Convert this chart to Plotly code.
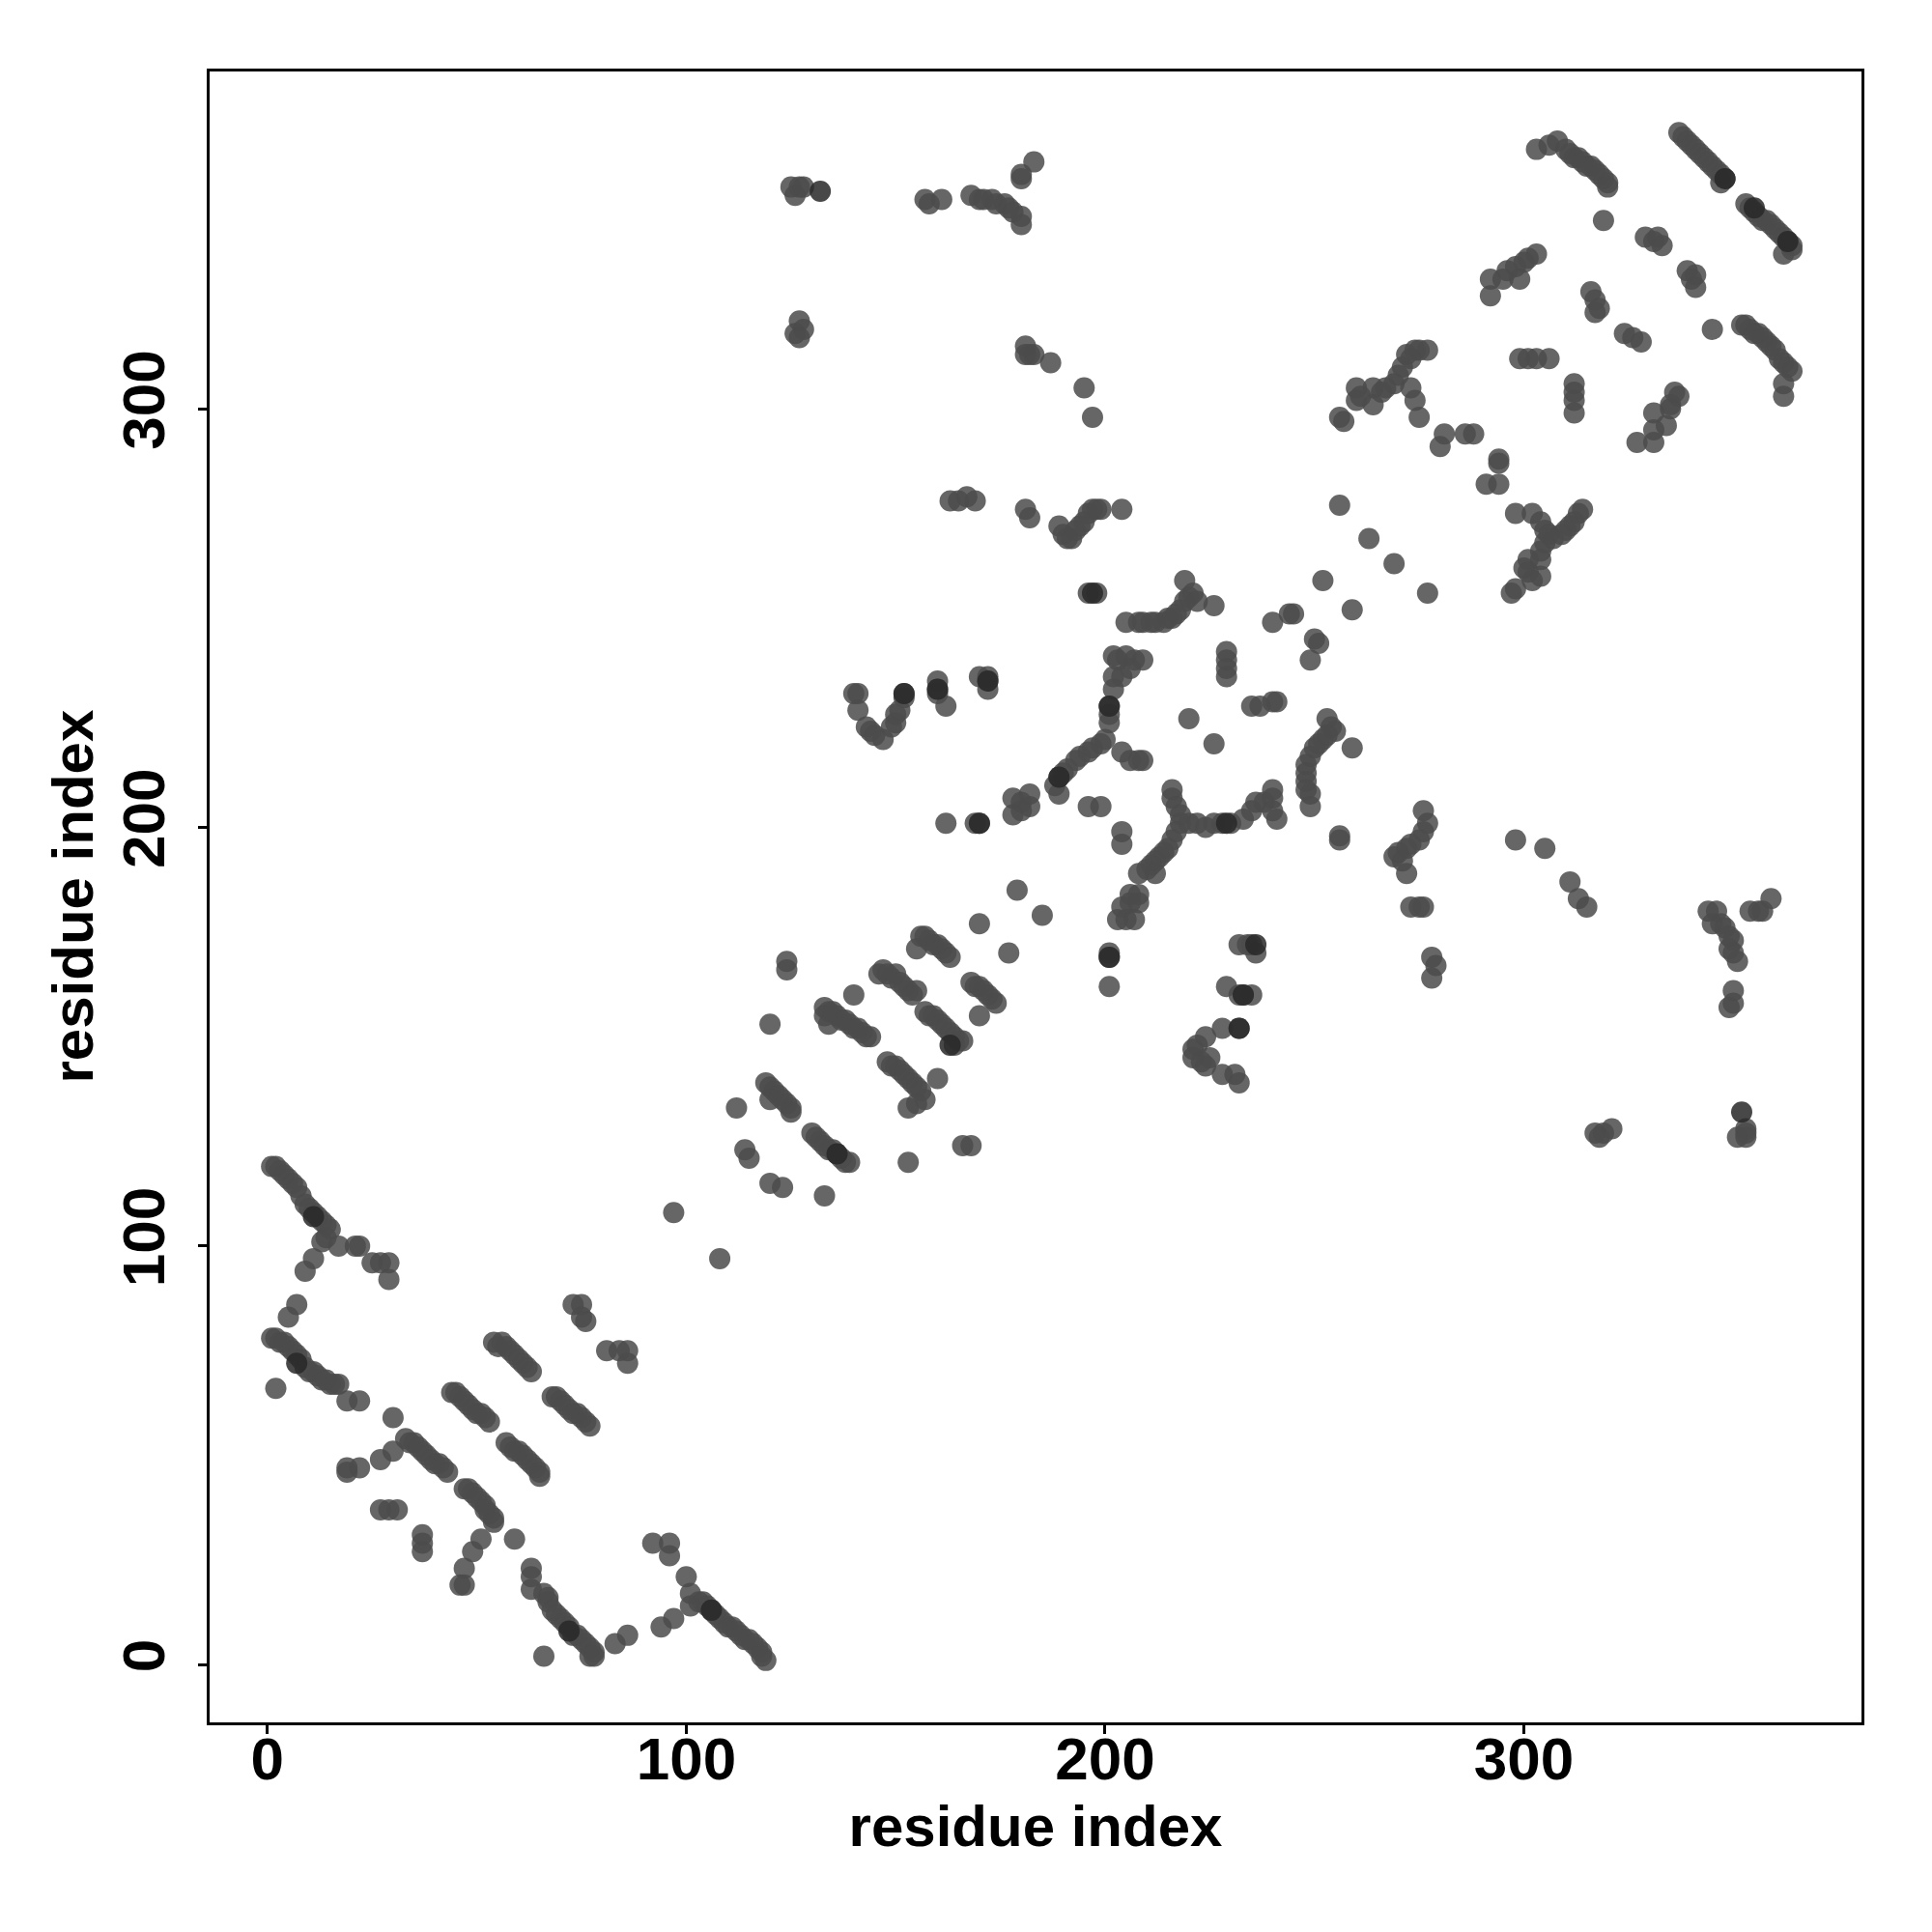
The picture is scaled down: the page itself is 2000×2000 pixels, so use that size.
import plotly.graph_objects as go

# Contacts, grouped by region: (residue i, residue j)
contacts_lower = [
    (1,119),(2,119),(3,118),(4,117),(5,116),(6,115),(7,114),(8,112),(9,110),(10,109),(11,108),(12,107),(13,106),(14,105),(15,104),(14,102),(13,101),(17,100),(21,100),(22,100),
    (11,97),(9,94),(25,96),(27,96),(29,96),(29,92),(7,86),(73,86),(75,86),
    (5,83),(1,78),(2,78),(3,77),(4,77),(5,76),(6,75),(7,74),(8,73),(9,71),(10,70),(11,70),(12,69),(13,68),(14,68),(15,67),(16,67),(17,67),(2,66),(19,63),(22,63),(30,59),
    (33,54),(34,53),(35,53),(36,52),(37,51),(38,50),(39,49),(40,48),(41,48),(42,47),(43,46),
    (30,51),(27,49),(22,47),(19,47),(19,46),
    (27,37),(29,37),(31,37),(37,31),(37,29),(37,27),
    (44,65),(45,65),(46,64),(47,63),(48,62),(49,61),(50,60),(51,60),(52,59),(53,58),
    (54,77),(55,76),(56,77),(57,76),(58,75),(59,74),(60,73),(61,72),(62,71),(63,70),
    (57,53),(58,52),(59,51),(60,51),(61,50),(62,49),(63,48),(64,47),(65,46),(65,45),
    (68,64),(69,64),(70,63),(71,62),(72,61),(73,60),(74,60),(75,59),(76,58),(77,57),
    (75,83),(76,82),(81,75),(84,75),(86,75),(86,72),
    (47,42),(48,42),(49,41),(50,40),(51,39),(52,38),(52,37),(53,36),(54,35),(54,34),
    (51,30),(49,27),(47,23),(46,19),(47,19),(59,30),(63,23),(63,21),(63,18),
    (66,17),(67,16),(67,15),(68,13),(69,12),(70,11),(71,10),(72,9),(73,7),(74,7),(75,6),(76,5),(77,4),(78,3),(78,2),(77,2),(66,2),(83,5),(86,7),
    (92,29),(96,29),(96,26),(100,21),(101,17),(101,14),(97,11),(94,9),
    (103,15),(104,15),(105,14),(106,13),(107,12),(108,11),(109,10),(110,9),(111,9),(112,8),(113,7),(114,6),(115,6),(116,5),(117,4),(118,3),(118,2),(119,1),
]

contacts_middle = [
    (179,185),(170,177),(177,170),(124,168),(124,166),(140,160),(120,153),
    (133,157),(134,156),(135,156),(136,155),(137,154),(138,154),(139,153),(140,152),(141,152),(142,151),(143,150),(144,150),(134,153),(133,155),
    (146,165),(147,166),(148,165),(149,164),(150,165),(151,163),(152,162),(153,161),(154,160),(155,161),
    (156,174),(157,174),(158,173),(159,172),(160,172),(161,171),(162,170),(163,169),(155,171),
    (168,163),(169,162),(170,162),(171,161),(172,160),(173,159),(174,158),(170,155),
    (157,156),(158,155),(159,155),(160,154),(161,153),(162,152),(163,151),(164,150),(165,149),(166,149),(164,148),
    (148,144),(149,143),(150,143),(151,142),(152,141),(153,140),(154,139),(155,138),(156,137),(157,135),(153,133),(155,134),
    (160,140),
    (119,139),(120,138),(121,137),(122,136),(123,135),(124,134),(125,133),(125,132),(120,135),(112,133),
    (130,127),(131,126),(132,125),(133,124),(134,123),(135,123),(136,122),(137,121),(138,120),(139,120),
    (114,123),(115,121),(120,115),(123,114),(133,112),(153,120),(166,124),(168,124),(97,108),(108,97),
    (185,179),(204,181),(206,182),(208,182),(203,178),(205,178),(207,178),(201,170),(201,169),(201,162),
    (232,172),(234,172),(235,172),(236,170),(229,162),(232,160),(233,160),(235,160),
    (228,152),(232,152),(224,150),(222,148),(221,147),(221,145),(223,144),(224,143),(225,145),(228,141),(231,141),(232,139),
    (273,181),(275,181),(276,181),(278,169),(279,167),(278,164),
]

contacts_central = [
    (163,278),(165,278),(167,279),(169,278),(181,276),(182,274),
    (140,232),(141,232),(141,228),(152,232),(152,231),
    (143,224),(144,223),(145,222),(147,221),(149,224),(150,225),(150,227),(151,228),
    (160,235),(160,233),(160,232),(162,229),
    (170,236),(172,236),(172,235),(172,233),
    (162,201),(169,201),(170,201),
    (178,207),(180,206),(182,208),(178,203),(180,204),(182,205),
    (189,272),(190,270),(191,269),(192,269),(193,271),(194,272),(195,273),(196,275),(197,276),(198,276),(199,276),(204,276),
    (196,256),(198,256),
    (205,249),(208,249),(209,249),(211,249),(212,249),(214,249),(215,250),(216,250),(217,251),(218,252),(219,254),(220,255),(221,256),(219,259),(222,254),(226,253),
    (202,241),(203,240),(205,241),(207,240),(209,240),(206,238),(202,236),(204,236),(202,233),(201,229),(201,227),(201,225),(200,221),(199,220),(197,219),(196,218),(194,217),(193,216),(191,214),(190,213),(189,212),(188,210),(189,208),
    (204,218),(206,216),(208,216),(209,216),
    (229,242),(229,240),(229,238),(229,236),
    (240,249),(244,251),(245,251),(250,245),(251,244),(249,240),
    (256,277),(263,269),(269,263),(277,256),(252,259),(259,252),
    (235,229),(237,229),(240,230),(241,230),(220,226),(226,220),
    (253,226),(254,224),(255,223),(253,222),(252,221),(251,220),(250,219),(259,219),(249,217),(248,215),(248,213),(248,211),(248,209),(249,208),(249,205),
    (196,205),(199,205),(204,199),(204,196),
    (216,209),(216,207),(217,205),(218,203),(218,201),(220,201),(222,201),(224,200),(226,201),(228,201),(230,201),(233,202),(235,204),(236,206),(238,206),(240,207),(240,209),(241,202),(240,204),
    (217,199),(216,197),(215,195),(214,194),(213,193),(212,192),(211,191),(210,190),(208,189),(212,189),
    (206,184),(208,184),(256,198),(256,197),
    (276,204),(277,201),(276,199),(275,197),(273,196),(272,195),(270,194),(269,193),(271,192),(272,189),
]

contacts_right = [
    (298,275),(302,275),(304,273),(305,271),(306,270),(305,268),(304,266),(304,264),(301,264),(301,261),(300,262),(304,260),(302,259),(298,257),(297,256),
    (314,276),(313,275),(312,273),(311,272),(310,271),(309,270),(307,269),
    (298,197),(305,195),(311,187),(313,183),(315,181),(359,183),(356,180),(354,180),(357,180),
    (344,180),(346,180),(345,177),(347,177),(348,176),(349,174),(350,173),(349,171),(350,170),(351,168),(350,161),(350,158),(349,157),
    (317,127),(318,126),(319,127),(321,128),(353,128),(351,126),(353,126),(353,127),
]

contacts_upper = [
    (303,362),(306,363),(308,364),(310,362),(311,361),(312,360),(313,360),(314,359),(315,358),(316,358),(317,357),(318,356),(319,355),(320,354),(320,353),(319,345),
    (337,366),(338,365),(339,364),(340,363),(341,362),(342,361),(343,360),(344,359),(345,358),(346,357),(347,356),(348,355),(347,354),
    (353,349),(354,348),(355,347),(356,346),(357,345),(358,345),(359,344),(360,343),(361,342),(362,341),(363,340),(364,339),(364,338),(362,337),
    (329,341),(331,340),(332,341),(333,339),(339,333),(340,331),(341,332),(341,329),
    (303,337),(301,336),(300,335),(298,334),(296,333),(292,331),(295,331),(299,331),(292,327),
    (316,328),(317,326),(318,324),(317,323),(324,318),(326,317),(328,316),(345,319),
    (352,320),(353,320),(354,319),(355,318),(356,318),(357,317),(358,316),(359,315),(360,314),(361,312),(362,311),(363,310),(364,309),(362,306),(362,303),
    (312,306),(312,304),(312,302),(312,299),(299,312),(301,312),(303,312),(306,312),
    (336,304),(337,303),(335,301),(335,300),(331,299),(334,296),(331,295),(327,292),(331,292),
    (286,294),(288,294),(294,288),(294,287),(291,282),(294,282),
    (183,313),(187,311),(195,305),(197,298),
    (275,314),(277,314),(272,313),(271,310),(270,308),(269,306),(267,305),(266,304),(264,305),(261,303),(260,305),(260,302),(264,301),(273,305),(274,302),(275,298),(256,298),(257,297),(281,294),(280,291),(273,312),(274,314),
    (125,353),(126,351),(127,353),(128,353),(157,350),(158,349),(161,350),
    (168,351),(170,350),(171,350),(173,350),(174,349),(176,349),(177,348),(178,347),(180,346),(180,344),
    (180,356),(180,355),(183,359),(127,321),(128,319),(126,318),(127,317),(181,315),(182,313),(181,313),
]

# Contacts that show up as darker marks
contacts_dark = [
    (132,352),(152,232),(172,235),(160,233),(170,201),(201,169),(236,172),(233,160),(232,152),
    (197,256),(352,132),(136,122),(163,148),(72,8),(7,72),(11,107),(106,13),
    (348,355),(355,348),(363,340),(201,229),(189,212),(229,201),
]

tick_values = [0, 100, 200, 300]
axis_label = "residue index"

base_contacts = contacts_lower + contacts_middle + contacts_central + contacts_right + contacts_upper

fig = go.Figure()
fig.add_trace(go.Scatter(
    x=[p[0] for p in base_contacts], y=[p[1] for p in base_contacts], mode="markers",
    marker=dict(size=22, color="rgba(75,75,75,0.85)", line=dict(width=0)),
    showlegend=False, hoverinfo="x+y",
))
fig.add_trace(go.Scatter(
    x=[p[0] for p in contacts_dark], y=[p[1] for p in contacts_dark], mode="markers",
    marker=dict(size=22, color="rgba(40,40,40,0.85)", line=dict(width=0)),
    showlegend=False, hoverinfo="x+y",
))

tick_font = dict(family="Liberation Sans, Arial, sans-serif", size=62, color="black", weight="bold")
title_font = dict(family="Liberation Sans, Arial, sans-serif", size=60, color="black", weight="bold")
axis_common = dict(
    range=[-13.8, 380.6], tickvals=tick_values, ticks="outside", ticklen=9, tickwidth=3,
    tickcolor="black", showline=True, mirror=True, linecolor="black", linewidth=3,
    showgrid=False, zeroline=False, tickfont=tick_font, automargin=False,
)
fig.update_layout(
    width=2000, height=2000,
    margin=dict(l=209, r=81, t=66, b=225),
    paper_bgcolor="white", plot_bgcolor="white",
    xaxis=dict(**axis_common, ticklabelstandoff=-27,
               title=dict(text=axis_label, font=title_font, standoff=15)),
    yaxis=dict(**axis_common, tickangle=-90, ticklabelstandoff=10),
    annotations=[dict(
        text=axis_label, font=title_font, textangle=-90,
        xref="paper", yref="paper", x=0, y=0.5, xanchor="center", yanchor="middle",
        xshift=-142, showarrow=False,
    )],
)
fig.write_html("out.html")
